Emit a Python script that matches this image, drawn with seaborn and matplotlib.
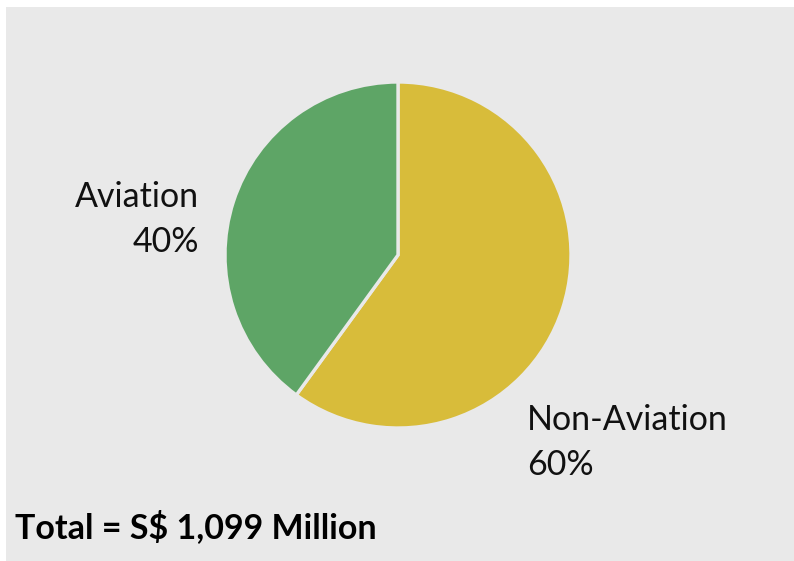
import matplotlib
matplotlib.use("Agg")
import matplotlib.pyplot as plt
import seaborn as sns

# Revenue split
categories = ["Non-Aviation", "Aviation"]
shares = [60, 40]
slice_colors = ["#d8bc3a", "#5ea566"]
total_label = "Total = S$ 1,099 Million"

sns.set_theme(style="white")
plt.rcParams["font.family"] = ["Lato", "DejaVu Sans"]

W, H = 794, 561
panel_color = "#e9e9e9"
fig = plt.figure(figsize=(W / 100, H / 100), dpi=100, facecolor="white")

# grey panel behind the chart
panel = fig.add_axes([6 / W, 0, 1 - 6 / W, 1 - 7 / H], zorder=0)
panel.set_facecolor(panel_color)
panel.set_xticks([])
panel.set_yticks([])
for s in panel.spines.values():
    s.set_visible(False)

cx, cy, r = 398, 255, 173
ax = fig.add_axes([(cx - r) / W, (H - cy - r) / H, 2 * r / W, 2 * r / H], zorder=1)
ax.pie(shares, colors=slice_colors, startangle=90, counterclock=False,
       radius=1, wedgeprops=dict(edgecolor=panel_color, linewidth=2.4))
ax.set_xlim(-1, 1)
ax.set_ylim(-1, 1)
ax.set_aspect("equal")
ax.axis("off")

def px(x, y):
    return x / W, 1 - y / H

fs = 24.5
x, y = px(199, 207)
fig.text(x, y, categories[1], ha="right", va="baseline", fontsize=fs, color="#111111", zorder=3)
x, y = px(199, 252)
fig.text(x, y, f"{shares[1]}%", ha="right", va="baseline", fontsize=fs, color="#111111", zorder=3)
x, y = px(527, 430)
fig.text(x, y, categories[0], ha="left", va="baseline", fontsize=fs, color="#111111", zorder=3)
x, y = px(527, 475)
fig.text(x, y, f"{shares[0]}%", ha="left", va="baseline", fontsize=fs, color="#111111", zorder=3)
x, y = px(15, 538)
fig.text(x, y, total_label, ha="left", va="baseline", fontsize=fs,
         fontweight="bold", color="#000000", zorder=3)

fig.savefig("out.png", dpi=100, facecolor="white")
